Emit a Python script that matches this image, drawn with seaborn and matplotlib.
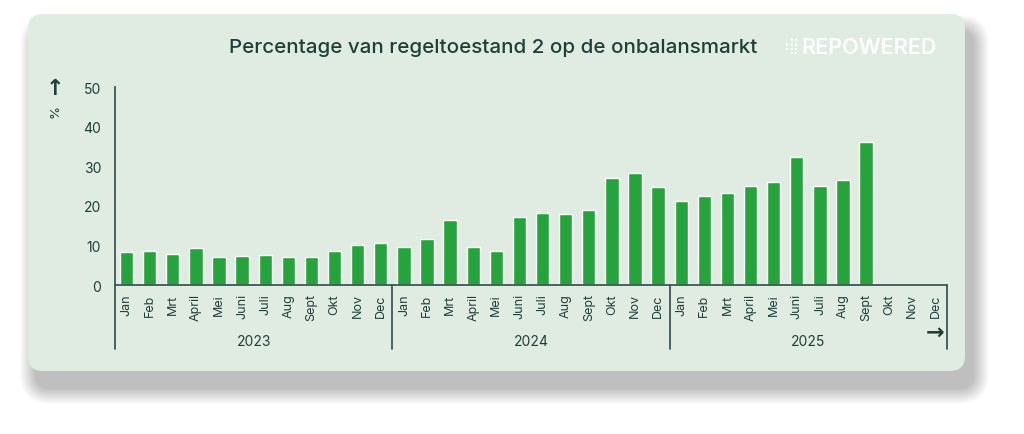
import numpy as np
import pandas as pd
import matplotlib
matplotlib.use("Agg")
import matplotlib.pyplot as plt
from matplotlib.patches import FancyBboxPatch
import seaborn as sns

months = ["Jan", "Feb", "Mrt", "April", "Mei", "Juni", "Juli", "Aug", "Sept", "Okt", "Nov", "Dec"]
years = ["2023", "2024", "2025"]
pct_2023 = [8.4, 8.6, 7.8, 9.4, 7.0, 7.2, 7.6, 7.0, 7.1, 8.6, 10.2, 10.6]
pct_2024 = [9.5, 11.7, 16.4, 9.6, 8.5, 17.2, 18.3, 18.0, 19.0, 26.9, 28.2, 24.7]
pct_2025 = [21.3, 22.5, 23.3, 25.0, 26.0, 32.3, 24.9, 26.6, 36.0, np.nan, np.nan, np.nan]

title = "Percentage van regeltoestand 2 op de onbalansmarkt"
green = "#27a33e"
card = "#e0ece2"
ink = "#1f3f3b"
line_c = "#3a5a56"

sns.set_theme(style="white")
plt.rcParams['font.family'] = ['Inter', 'DejaVu Sans']

slots = [y + "-" + m for y in years for m in months]
df = pd.DataFrame({"slot": slots, "value": pct_2023 + pct_2024 + pct_2025})

fig = plt.figure(figsize=(10.24, 4.35), dpi=100)
fig.patch.set_facecolor("white")

# background layer in pixel coords
bg = fig.add_axes([0, 0, 1, 1])
bg.set_xlim(0, 1024)
bg.set_ylim(435, 0)
bg.axis("off")
for i in range(16):
    g = 16 - i
    bg.add_patch(FancyBboxPatch((36 - g, 32 - g), 937 + 2 * g, 357 + 2 * g,
                                boxstyle="round,pad=0,rounding_size=%d" % (15 + g),
                                fc="black", ec="none", alpha=0.016))
bg.add_patch(FancyBboxPatch((28, 15), 937, 357, boxstyle="round,pad=0,rounding_size=15",
                            fc=card, ec="none"))
bg.text(493, 48, title, ha="center", va="center", fontsize=14.8, fontweight="medium", color=ink)
# logo
for cx in range(3):
    for cy in range(4):
        if cx == 0 and cy in (0, 3):
            continue
        bg.add_patch(plt.Rectangle((786 + cx * 4.5, 40 + cy * 4.3), 2.4, 2.4, fc="white", ec="none"))
bg.text(801, 48, "REPOWERED", ha="left", va="center", fontsize=15.5, fontweight="semibold", color="white")
bg.text(55, 89, "\u2191", ha="center", va="center", fontsize=16, fontweight="bold", color=ink,
        family="DejaVu Sans")
bg.text(55, 111, "%", ha="center", va="center", fontsize=9.5, rotation=90, color=ink)
bg.text(935, 333, "\u2192", ha="center", va="center", fontsize=16, fontweight="bold", color=ink,
        family="DejaVu Sans")

ax = fig.add_axes([115 / 1024, (435 - 286) / 435, 832 / 1024, 198 / 435])
ax.set_facecolor("none")
sns.barplot(data=df, x="slot", y="value", order=slots, color=green, width=0.58,
            saturation=1, ax=ax, zorder=2)
ax.set_xlim(-0.5, 35.5)
ax.set_ylim(0, 50)
ax.set_yticks([0, 10, 20, 30, 40, 50])
ax.set_xticks(range(36))
ax.set_xticklabels(months * 3, rotation=90)
ax.set_xlabel("")
ax.set_ylabel("")
ax.tick_params(axis="y", length=0, pad=10, labelsize=10, labelcolor=ink)
ax.tick_params(axis="x", length=0, pad=6, labelsize=9, labelcolor=ink)
for s in ["top", "right"]:
    ax.spines[s].set_visible(False)
for s in ["left", "bottom"]:
    ax.spines[s].set_color(line_c)
    ax.spines[s].set_linewidth(1.3)

for b in [-0.5, 11.5, 23.5, 35.5]:
    ax.plot([b, b], [0, -0.323], transform=ax.get_xaxis_transform(), color=line_c,
            lw=1.3, clip_on=False)
for i, y in enumerate(years):
    ax.text(5.5 + 12 * i, -0.283, y, transform=ax.get_xaxis_transform(), ha="center",
            va="center", fontsize=10, color=ink)

fig.savefig("out.png", dpi=100, facecolor="white")
